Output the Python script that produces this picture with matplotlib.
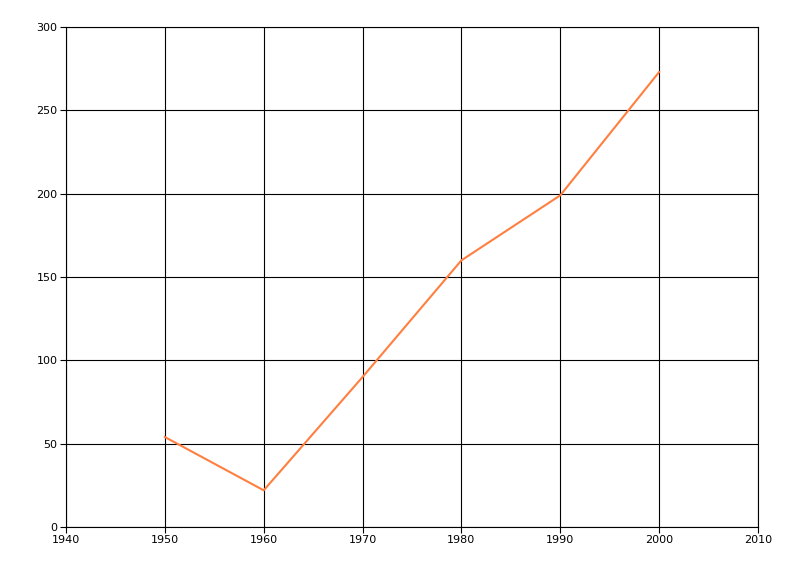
import matplotlib
matplotlib.use('Agg')
import matplotlib.pyplot as plt

years = [1950, 1960, 1970, 1980, 1990, 2000]
values = [54, 22, 90, 160, 199, 273]
x_ticks = [1940, 1950, 1960, 1970, 1980, 1990, 2000, 2010]
y_ticks = [0, 50, 100, 150, 200, 250, 300]

fig = plt.figure(figsize=(8, 5.76), dpi=100)
ax = fig.add_axes([66 / 800, 1 - 527 / 576, (758 - 66) / 800, (527 - 27) / 576])

ax.plot(years, values, color='#ff7f3f', linewidth=1.5, zorder=3)

ax.set_xlim(1940, 2010)
ax.set_ylim(0, 300)
ax.set_xticks(x_ticks)
ax.set_yticks(y_ticks)
ax.grid(True, color='black', linewidth=0.8)
ax.set_axisbelow(True)
for s in ax.spines.values():
    s.set_linewidth(0.8)
ax.tick_params(direction='out', length=4, width=0.8, labelsize=8, pad=2)

fig.savefig('out.png', dpi=100)
